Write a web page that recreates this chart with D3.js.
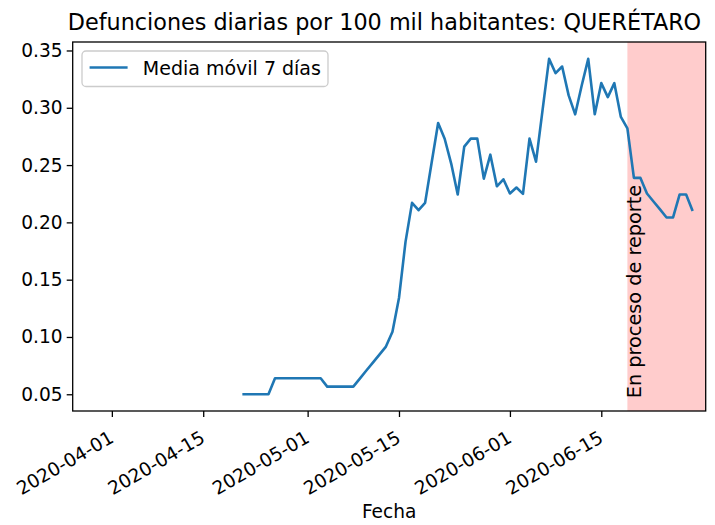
<!DOCTYPE html>
<html>
<head>
<meta charset="utf-8">
<script src="https://cdn.jsdelivr.net/npm/d3@7"></script>
<style>
    body { margin: 0; background: #fff; }
    svg { display: block; font-family: "DejaVu Sans", sans-serif; }
    .axis text { font-family: "DejaVu Sans", sans-serif; font-size: 18.6px; fill: #000; }
    .axis path, .axis line { stroke: #000; stroke-width: 1.3px; }
</style>
</head>
<body>
<div id="chart"></div>
<script>
// daily dates of the 7-day moving average
const startDate = '2020-04-21';
const mediaMovil = [
    0.05, 0.05, 0.05, 0.05, 0.05,                       // 04-21 .. 04-25
    0.064, 0.064, 0.064, 0.064, 0.064, 0.064, 0.064, 0.064, // 04-26 .. 05-03
    0.0567, 0.0567, 0.0567, 0.0567, 0.0567,             // 05-04 .. 05-08
    0.0637, 0.0707, 0.0776, 0.0846, 0.0916, 0.1046,     // 05-09 .. 05-14
    0.134, 0.183, 0.217, 0.2106, 0.217, 0.252, 0.2867,  // 05-15 .. 05-21
    0.273, 0.2513, 0.2243, 0.2661, 0.2731, 0.2731, 0.2382, // 05-22 .. 05-28
    0.2591, 0.2315, 0.2376, 0.2252, 0.2304, 0.2249, 0.2731, // 05-29 .. 06-04
    0.253, 0.298, 0.3427, 0.3302, 0.336, 0.3108, 0.2943,  // 06-05 .. 06-11
    0.3195, 0.3427, 0.2943, 0.3215, 0.3093, 0.3215, 0.292, // 06-12 .. 06-18
    0.282, 0.2388, 0.2388, 0.2252, 0.2182, 0.2113, 0.2043, // 06-19 .. 06-25
    0.2043, 0.2243, 0.2243, 0.21                         // 06-26 .. 06-29
];
const xTickLabels = ['2020-04-01', '2020-04-15', '2020-05-01', '2020-05-15', '2020-06-01', '2020-06-15'];
const yTickValues = [0.05, 0.10, 0.15, 0.20, 0.25, 0.30, 0.35];
const reportStart = '2020-06-19';
const xDomain = ['2020-03-26', '2020-07-01'];
const yDomain = [0.0354, 0.3574];

const WIDTH = 715;
const HEIGHT = 525;
const plot = { left: 72.7, right: 705.7, top: 42, bottom: 411 };

const parse = d3.utcParse('%Y-%m-%d');
const t0 = parse(startDate);
const data = mediaMovil.map((v, i) => ({ date: d3.utcDay.offset(t0, i), value: v }));

const x = d3.scaleUtc().domain(xDomain.map(parse)).range([plot.left, plot.right]);
const y = d3.scaleLinear().domain(yDomain).range([plot.bottom, plot.top]);

const svg = d3.select('#chart').append('svg')
    .attr('width', WIDTH)
    .attr('height', HEIGHT);

// "en proceso de reporte" shaded span
const spanX = x(parse(reportStart));
svg.append('rect')
    .attr('x', spanX)
    .attr('y', plot.top)
    .attr('width', plot.right - spanX)
    .attr('height', plot.bottom - plot.top)
    .attr('fill', 'rgb(255,204,204)');

svg.append('text')
    .attr('transform', 'translate(' + (spanX + 13.5) + ',' + (y(0.05) + 4) + ') rotate(-90)')
    .attr('font-size', 19.3)
    .attr('fill', '#000')
    .text('En proceso de reporte');

// line
const line = d3.line()
    .x(d => x(d.date))
    .y(d => y(d.value));

svg.append('path')
    .datum(data)
    .attr('d', line)
    .attr('fill', 'none')
    .attr('stroke', '#1f77b4')
    .attr('stroke-width', 2.6)
    .attr('stroke-linejoin', 'round')
    .attr('stroke-linecap', 'butt');

// axes
const xAxis = svg.append('g')
    .attr('class', 'axis')
    .attr('transform', 'translate(0,' + plot.bottom + ')')
    .call(d3.axisBottom(x).tickValues(xTickLabels.map(parse)).tickSize(6).tickFormat(d3.utcFormat('%Y-%m-%d')));
xAxis.select('.domain').remove();
xAxis.selectAll('text')
    .attr('text-anchor', 'end')
    .attr('y', 0)
    .attr('dy', '0.71em')
    .attr('transform', 'translate(-4,19) rotate(-30)');

const yAxis = svg.append('g')
    .attr('class', 'axis')
    .attr('transform', 'translate(' + plot.left + ',0)')
    .call(d3.axisLeft(y).tickValues(yTickValues).tickSize(6).tickPadding(4).tickFormat(d3.format('.2f')));
yAxis.select('.domain').remove();

// spines
svg.append('rect')
    .attr('x', plot.left)
    .attr('y', plot.top)
    .attr('width', plot.right - plot.left)
    .attr('height', plot.bottom - plot.top)
    .attr('fill', 'none')
    .attr('stroke', '#000')
    .attr('stroke-width', 1.3);

// legend
const legend = svg.append('g');
legend.append('rect')
    .attr('x', 82).attr('y', 51)
    .attr('width', 246).attr('height', 35.5)
    .attr('rx', 4)
    .attr('fill', '#fff').attr('fill-opacity', 0.8)
    .attr('stroke', '#ccc')
    .attr('stroke-width', 1.3);
legend.append('line')
    .attr('x1', 89.6).attr('x2', 127.6)
    .attr('y1', 67.5).attr('y2', 67.5)
    .attr('stroke', '#1f77b4')
    .attr('stroke-width', 2.6);
legend.append('text')
    .attr('x', 142.8).attr('y', 74.5)
    .attr('font-size', 19)
    .text('Media móvil 7 días');

// titles
svg.append('text')
    .attr('x', 384.5)
    .attr('y', 30)
    .attr('text-anchor', 'middle')
    .attr('font-size', 22.3)
    .text('Defunciones diarias por 100 mil habitantes: QUERÉTARO');

svg.append('text')
    .attr('x', (plot.left + plot.right) / 2)
    .attr('y', 518)
    .attr('text-anchor', 'middle')
    .attr('font-size', 18.6)
    .text('Fecha');
</script>
</body>
</html>
